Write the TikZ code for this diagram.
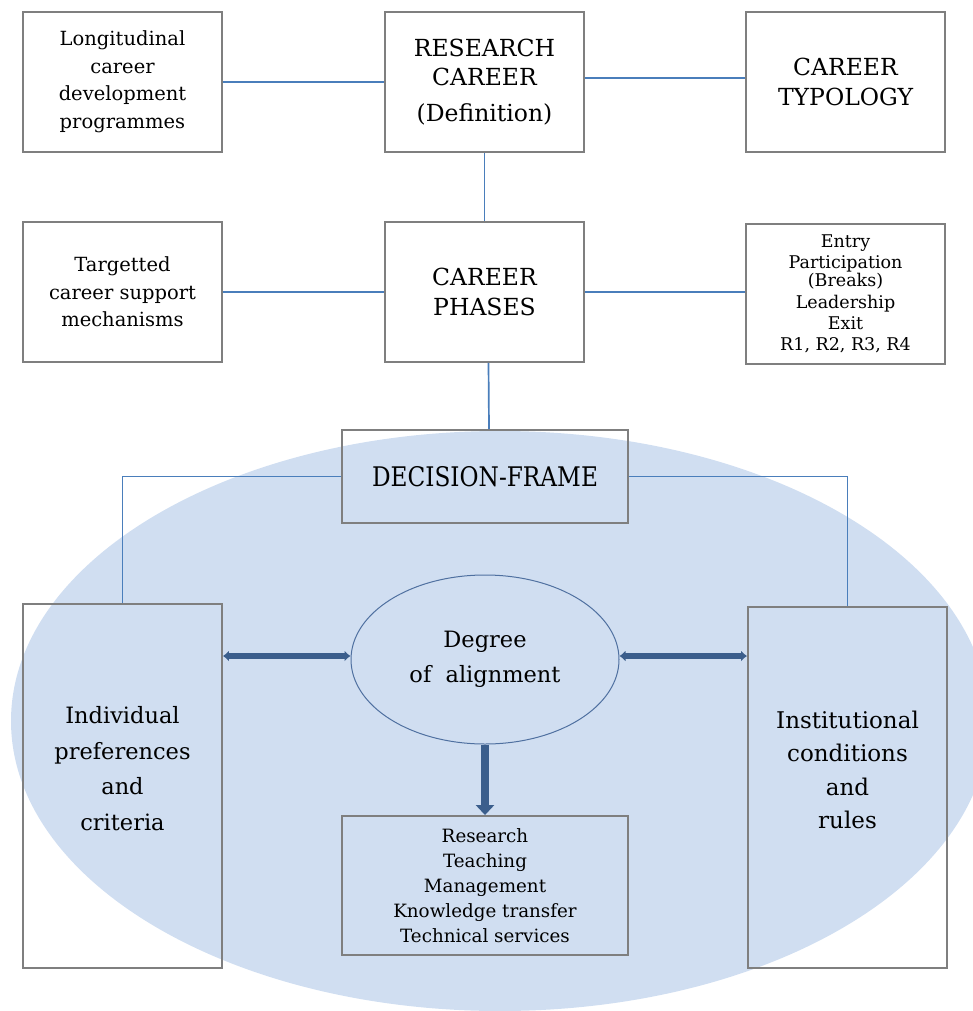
\documentclass[tikz,border=0pt]{standalone}
\usepackage{fontspec}
\setmainfont{DejaVu Serif}
\usepackage{graphicx}
\usetikzlibrary{arrows.meta,shapes.geometric}
\definecolor{boxgray}{RGB}{127,127,127}
\definecolor{lineblue}{RGB}{74,126,187}
\definecolor{ellfill}{RGB}{208,222,241}
\definecolor{arrowblue}{RGB}{59,94,140}
\definecolor{degblue}{RGB}{79,112,160}
\definecolor{txt}{RGB}{0,0,0}
\begin{document}
\begin{tikzpicture}[x=1pt,y=-1pt,
  box/.style={draw=boxgray, line width=1.9pt, minimum width=199pt, minimum height=140pt, inner sep=0pt, align=center, text=txt},
  wbox/.style={box, fill=white},
  conn/.style={draw=lineblue, line width=1.7pt},
  fa/.style={font=\fontsize{19.5}{27.5}\selectfont},
  fb/.style={font=\fontsize{23.5}{29.5}\selectfont},
  fc/.style={font=\fontsize{22.5}{35.5}\selectfont},
  fd/.style={font=\fontsize{17.5}{21}\selectfont},
  fe/.style={font=\fontsize{18.3}{25}\selectfont},
  dbl/.style={draw=arrowblue, line width=6pt, {Latex[length=6pt,width=11pt]}-{Latex[length=6pt,width=11pt]}},
  downarr/.style={draw=arrowblue, line width=8pt, -{Triangle[length=10pt,width=18pt]}},
  plain/.style={inner sep=0pt, align=center, text=txt}
]
\useasboundingbox (0,0) rectangle (973,1011);
\begin{scope}
\clip (0,0) rectangle (973,1011);
\fill[ellfill] (500,721) ellipse [x radius=489, y radius=290];
\end{scope}

% top row
\node[wbox, fa] (lcd) at (122.5,82) {Longitudinal\\career\\development\\programmes};
\node[wbox, fb] (rc) at (484.5,82) {RESEARCH\\CAREER\\[6pt](Definition)};
\node[wbox, fb] (ct) at (845.5,82) {CAREER\\TYPOLOGY};
% second row
\node[wbox, fa] (tcs) at (122.5,292) {Targetted\\career support\\mechanisms};
\node[wbox, fb] (cp) at (484.5,292) {CAREER\\PHASES};
\node[wbox, fd] (ph) at (845.5,294) {Entry\\Participation\\[-3pt](Breaks)\\[1pt]Leadership\\Exit\\R1, R2, R3, R4};
% decision frame
\node[box, minimum width=286pt, minimum height=93pt, font=\fontsize{27}{30}\selectfont] (df) at (485,476.5) {\scalebox{0.86}[1]{DECISION-FRAME}};
% side boxes
\node[box, minimum height=364pt] (ind) at (122.5,786) {};
\node[plain, fc] (indtxt) at (122.5,768.5) {Individual\\preferences\\and\\criteria};
\node[box, minimum height=361pt] (inst) at (847.5,787.5) {};
\node[plain, font=\fontsize{23}{33.5}\selectfont] (insttxt) at (847.5,770) {Institutional\\conditions\\and\\rules};
% degree ellipse
\node[ellipse, draw=degblue, line width=1pt, minimum width=268pt, minimum height=169pt, inner sep=0pt, align=center, text=txt, fc] (deg) at (485,659.5) {Degree\\of\ \ alignment};
% outcome box
\node[box, minimum width=286pt, minimum height=139pt, fe] (out) at (485,885.5) {Research\\Teaching\\Management\\Knowledge transfer\\Technical services};

% connectors
\coordinate (ya) at (0,78);
\draw[conn] (lcd.east) -- (rc.west);
\draw[conn] (rc.east |- ya) -- (ct.west |- ya);
\draw[conn] (rc.south) -- (cp.north);
\draw[conn] (tcs.east) -- (cp.west);
\draw[conn] (cp.east) -- (ph.west |- cp.east);
\draw[conn] ([xshift=4pt]cp.south) -- ([xshift=4pt]df.north);
\draw[conn] (df.west) -| (ind.north);
\draw[conn] (df.east) -| (inst.north);

% thick arrows
\coordinate (ay) at (0,656);
\draw[dbl] (ind.east |- ay) -- (deg.west |- ay);
\draw[dbl] (deg.east |- ay) -- (inst.west |- ay);
\draw[downarr] (deg.south) -- (out.north);
\end{tikzpicture}
\end{document}
